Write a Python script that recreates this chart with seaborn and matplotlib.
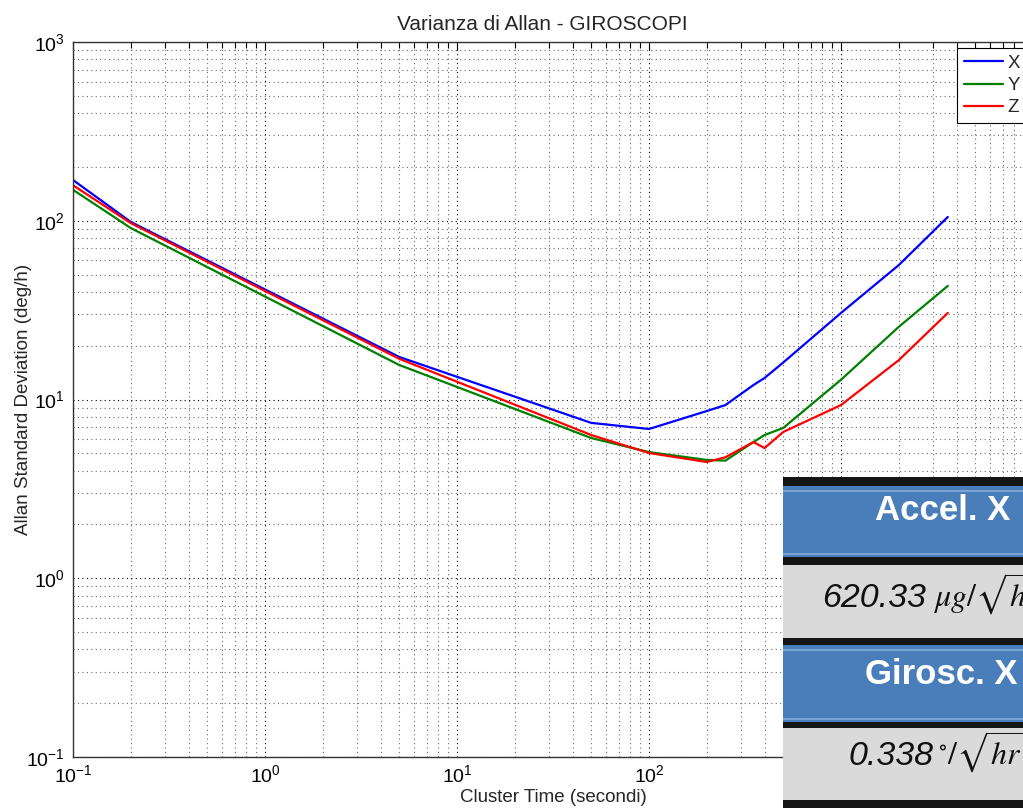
# Allan deviation plot for the gyroscopes, plus the summary table pasted on top

import numpy as np
import pandas as pd
import matplotlib
matplotlib.use('Agg')
import matplotlib.pyplot as plt
from matplotlib.patches import Rectangle
import seaborn as sns

# cluster times (s) and Allan deviation (deg/h) per axis
tau = [0.1, 0.2, 5, 50, 100, 200, 250, 350, 400, 500, 1000, 2000, 3600]
gyro_x = [169, 98.5, 17.3, 7.4, 6.84, 8.62, 9.31, 12.05, 13.2, 16.1, 30.5, 56.5, 105]
gyro_y = [149, 91, 15.6, 6.09, 5.08, 4.59, 4.55, 5.78, 6.33, 6.93, 12.9, 25.5, 43.2]
gyro_z = [158, 97, 16.9, 6.33, 5.02, 4.47, 4.75, 5.78, 5.35, 6.58, 9.31, 16.6, 30.5]
series = ['X', 'Y', 'Z']
colors = ['#0000ff', '#008000', '#ff0000']

# table text
table_headers = ['Accel. X', 'Girosc. X']
table_numbers = ['620.33', '0.338']
table_units = [r'$\mu g/\sqrt{hr}$', r'$^{\circ}/\sqrt{hr}$']

sns.set_theme(style='white')
plt.rcParams['font.family'] = ['Liberation Sans', 'DejaVu Sans']
plt.rcParams['mathtext.fontset'] = 'custom'
plt.rcParams['mathtext.rm'] = 'Liberation Sans'
plt.rcParams['mathtext.it'] = 'Liberation Sans:italic'
plt.rcParams['axes.unicode_minus'] = False

W, H = 1023, 808
fig = plt.figure(figsize=(W / 100, H / 100), dpi=100, facecolor='white')

def fx(px):
    return px / W

def fy(py):
    return 1 - py / H

# axes run from 10^-1 to 10^4 but the right end is cut off by the figure
ax = fig.add_axes([fx(73), fy(757), (1033 - 73) / W, (757 - 42) / H])
ax.set_xscale('log')
ax.set_yscale('log')

df = pd.DataFrame({'tau': tau * 3,
                   'adev': gyro_x + gyro_y + gyro_z,
                   'axis': [s for s in series for _ in tau]})

for name, col in zip(series, colors):
    sns.lineplot(data=df[df['axis'] == name], x='tau', y='adev', color=col,
                 lw=1.6, label=name, ax=ax)

ax.set_xlim(0.1, 1e4)
ax.set_ylim(0.1, 1e3)

ax.grid(True, which='major', ls=(0, (1, 3)), color='#000000', lw=0.8)
ax.grid(True, which='minor', ls=(0, (1, 3)), color='#6a6a6a', lw=0.8)
ax.tick_params(which='both', direction='in', top=True, right=True,
               labelsize=14, colors='#000000')
ax.tick_params(which='major', length=6, width=0.8, pad=6)
ax.tick_params(which='minor', length=4, width=0.8)
ax.tick_params(axis='x', which='major', pad=5)
for sp in ax.spines.values():
    sp.set_color('#333333')
    sp.set_linewidth(1.0)

ax.set_xlabel('Cluster Time (secondi)', fontsize=13.5)
ax.set_ylabel('Allan Standard Deviation (deg/h)', fontsize=13.5)
ax.xaxis.set_label_coords(0.5, -0.045)
ax.yaxis.set_label_coords(-0.043, 0.5)
ax.set_title('Varianza di Allan - GIROSCOPI', fontsize=15, x=0.4885, pad=9)

leg = ax.legend(loc='upper left', bbox_to_anchor=((957 - 73) / 960, (757 - 48) / 715),
                borderaxespad=0, fontsize=13.5, handlelength=2.1, handletextpad=0.25,
                labelspacing=0.28, borderpad=0.35, fancybox=False, framealpha=1)
leg.get_frame().set_edgecolor('#000000')
leg.get_frame().set_linewidth(0.8)

# pasted table screenshot in the lower right corner
x0, x1 = 783, 1023
blue = '#4a7ebb'
bands = [(477, 486, '#151515'), (486, 557, blue), (557, 565, '#151515'),
         (565, 638, '#dadada'), (638, 645, '#151515'), (645, 722, blue),
         (722, 728, '#151515'), (728, 800, '#dadada'), (800, 808, '#151515')]
for top, bot, c in bands:
    fig.add_artist(Rectangle((fx(x0), fy(bot)), (x1 - x0) / W, (bot - top) / H,
                             transform=fig.transFigure, facecolor=c, edgecolor='none',
                             zorder=5))
# thin light lines inside the blue header cells
for yy in [490, 553, 649, 718]:
    fig.add_artist(Rectangle((fx(x0), fy(yy + 1.5)), (x1 - x0) / W, 1.5 / H,
                             transform=fig.transFigure, facecolor='#7aa3d6',
                             edgecolor='none', zorder=6))

fig.text(fx(875), fy(511), table_headers[0], color='white', fontsize=25,
         fontweight='bold', va='center', ha='left', zorder=7)
fig.text(fx(865), fy(675), table_headers[1], color='white', fontsize=25,
         fontweight='bold', va='center', ha='left', zorder=7)
fig.text(fx(822), fy(607), table_numbers[0], color='#111111', fontsize=24.5,
         style='italic', va='baseline', ha='left', zorder=7)
fig.text(fx(933), fy(607), table_units[0], color='#111111', fontsize=23,
         math_fontfamily='stix', va='baseline', ha='left', zorder=7)
fig.text(fx(849), fy(765), table_numbers[1], color='#111111', fontsize=24.5,
         style='italic', va='baseline', ha='left', zorder=7)
fig.text(fx(938), fy(765), table_units[1], color='#111111', fontsize=23,
         math_fontfamily='stix', va='baseline', ha='left', zorder=7)

fig.savefig('out.png', dpi=100, facecolor='white')
